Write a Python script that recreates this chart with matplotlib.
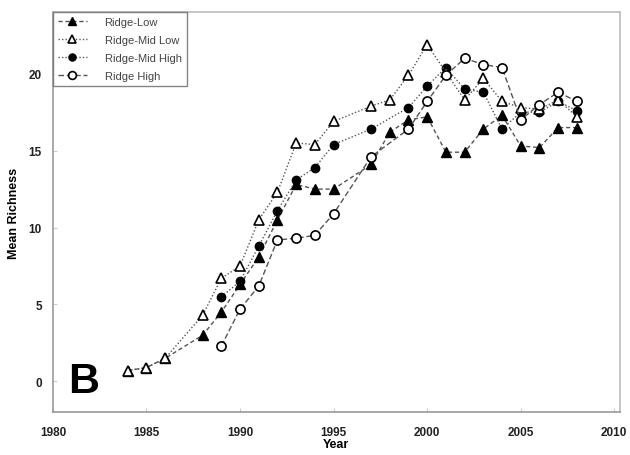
import matplotlib
matplotlib.use("Agg")
import matplotlib.pyplot as plt

plt.rcParams['font.family'] = ['Liberation Sans', 'DejaVu Sans']

years_low = [1984, 1985, 1986, 1988, 1989, 1990, 1991, 1992, 1993, 1994, 1995, 1997, 1998, 1999, 2000,
             2001, 2002, 2003, 2004, 2005, 2006, 2007, 2008]
ridge_low = [0.7, 0.9, 1.5, 3.0, 4.5, 6.3, 8.1, 10.5, 12.8, 12.5, 12.5, 14.1, 16.2, 17.0, 17.2,
             14.9, 14.9, 16.4, 17.3, 15.3, 15.2, 16.5, 16.5]

years_midlow = [1984, 1985, 1986, 1988, 1989, 1990, 1991, 1992, 1993, 1994, 1995, 1997, 1998, 1999, 2000,
                2001, 2002, 2003, 2004, 2005, 2006, 2007, 2008]
ridge_midlow = [0.7, 0.9, 1.5, 4.3, 6.7, 7.5, 10.5, 12.3, 15.5, 15.4, 16.9, 17.9, 18.3, 19.9, 21.9,
                20.1, 18.3, 19.7, 18.2, 17.8, 17.7, 18.3, 17.2]

years_midhigh = [1989, 1990, 1991, 1992, 1993, 1994, 1995, 1997, 1999, 2000,
                 2001, 2002, 2003, 2004, 2005, 2006, 2007, 2008]
ridge_midhigh = [5.5, 6.5, 8.8, 11.1, 13.1, 13.9, 15.4, 16.4, 17.8, 19.2,
                 20.4, 19.0, 18.8, 16.4, 17.5, 17.5, 18.2, 17.6]

years_high = [1989, 1990, 1991, 1992, 1993, 1994, 1995, 1997, 1999, 2000,
              2001, 2002, 2003, 2004, 2005, 2006, 2007, 2008]
ridge_high = [2.3, 4.7, 6.2, 9.2, 9.3, 9.5, 10.9, 14.6, 16.4, 18.2,
              19.9, 21.0, 20.6, 20.4, 17.0, 18.0, 18.8, 18.2]

labels = ['Ridge-Low', 'Ridge-Mid Low', 'Ridge-Mid High', 'Ridge High']

fig = plt.figure(figsize=(6.3, 4.56), dpi=100)
ax = fig.add_axes([0.084, 0.094, 0.900, 0.877])

lc = '#555555'
ax.plot(years_low, ridge_low, linestyle=(0, (3, 2)), color=lc, lw=1.0,
        marker='^', ms=6.5, mfc='black', mec='black', label=labels[0], zorder=3)
ax.plot(years_midlow, ridge_midlow, linestyle=(0, (1, 1.5)), color=lc, lw=1.0,
        marker='^', ms=7.5, mfc='white', mec='black', mew=1.2, label=labels[1], zorder=4)
ax.plot(years_midhigh, ridge_midhigh, linestyle=(0, (1, 1.5)), color=lc, lw=1.0,
        marker='o', ms=6, mfc='black', mec='black', label=labels[2], zorder=3)
ax.plot(years_high, ridge_high, linestyle=(0, (4, 2)), color=lc, lw=1.0,
        marker='o', ms=6.6, mfc='white', mec='black', mew=1.2, label=labels[3], zorder=4)

ax.set_xlim(1980, 2010.3)
ax.set_ylim(-2, 24)
ax.set_xticks([1980, 1985, 1990, 1995, 2000, 2005, 2010])
ax.set_yticks([0, 5, 10, 15, 20])
ax.tick_params(axis='both', direction='in', length=3, color='#cccccc', labelsize=8.5, pad=8)
ax.tick_params(axis='x', pad=10)
for lab in ax.get_xticklabels() + ax.get_yticklabels():
    lab.set_fontweight('bold')
    lab.set_color('#222222')

for s in ax.spines.values():
    s.set_color('#999999')
    s.set_linewidth(1.2)
ax.spines['top'].set_color('#bbbbbb')
ax.spines['right'].set_color('#bbbbbb')

ax.set_xlabel('Year', fontsize=9, fontweight='bold', labelpad=0)
ax.set_ylabel('Mean Richness', fontsize=9, fontweight='bold', labelpad=6)

ax.text(1980.8, 0.0, 'B', fontsize=31, fontweight='bold', va='center', ha='left')

leg = ax.legend(loc='upper left', fontsize=8, frameon=True, fancybox=False,
                borderaxespad=0, handlelength=2.6, borderpad=0.45, labelspacing=0.72,
                handletextpad=1.6, markerscale=0.85)
leg.get_frame().set_edgecolor('#666666')
leg.get_frame().set_linewidth(1.0)
for t in leg.get_texts():
    t.set_color('#444444')

fig.savefig('out.png', dpi=100)
